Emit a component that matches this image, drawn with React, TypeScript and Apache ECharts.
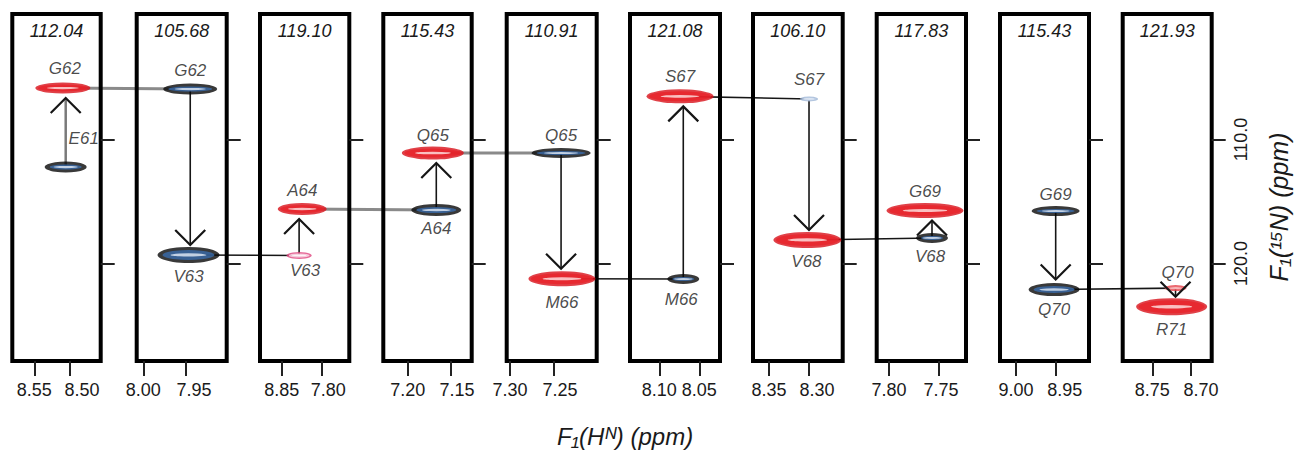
import React, { useEffect, useRef } from 'react';
import * as echarts from 'echarts';

// ---------------- data ----------------
const stripLabels = ['112.04', '105.68', '119.10', '115.43', '110.91', '121.08', '106.10', '117.83', '115.43', '121.93'];
const xMin = [8.457, 7.9023, 7.7646, 7.1261, 7.2015, 8.0241, 8.2579, 7.723, 8.908, 8.6733];
const xMax = [8.5808, 8.0077, 7.8774, 7.2282, 7.3038, 8.1366, 8.37, 7.8123, 9.0202, 8.7882];
const xTickValues = [[8.55, 8.5], [8.0, 7.95], [7.85, 7.8], [7.2, 7.15], [7.3, 7.25], [8.1, 8.05], [8.35, 8.3], [7.8, 7.75], [9.0, 8.95], [8.75, 8.7]];
const xTickLabels = [['8.55', '8.50'], ['8.00', '7.95'], ['8.85', '7.80'], ['7.20', '7.15'], ['7.30', '7.25'], ['8.10', '8.05'], ['8.35', '8.30'], ['7.80', '7.75'], ['9.00', '8.95'], ['8.75', '8.70']];
const yMin = 99.88;
const yMax = 127.86;
const yTickValues = [110, 120];

const peakPanel = [0, 0, 1, 1, 2, 2, 3, 3, 4, 4, 5, 5, 6, 6, 7, 7, 8, 8, 9, 9];
const peakLabel = ['G62', 'E61', 'G62', 'V63', 'V63', 'A64', 'Q65', 'A64', 'Q65', 'M66', 'S67', 'M66', 'S67', 'V68', 'G69', 'V68', 'G69', 'Q70', 'Q70', 'R71'];
const peakH = [8.51, 8.506, 7.945, 7.947, 7.828, 7.824, 7.171, 7.167, 7.242, 7.241, 8.074, 8.07, 8.3, 8.302, 7.764, 7.757, 8.95, 8.952, 8.72, 8.725];
const peakN = [105.85, 112.22, 105.93, 119.31, 119.35, 115.6, 111.09, 115.69, 111.09, 121.23, 106.52, 121.25, 106.73, 118.1, 115.73, 117.94, 115.77, 122.1, 121.98, 123.48];
const peakKind = ['red', 'black', 'black', 'black', 'pink', 'red', 'red', 'black', 'black', 'red', 'red', 'black', 'pale', 'red', 'red', 'black', 'black', 'black', 'redSmall', 'red'];

// sequential connections (peak indices)
const walkFrom = [0, 3, 5, 6, 9, 10, 13, 17];
const walkTo = [2, 4, 7, 8, 11, 12, 15, 18];
const walkGray = [true, false, true, true, false, false, false, false];
const arrowFrom = [1, 2, 4, 7, 8, 11, 12, 15, 16, 18];
const arrowTo = [0, 3, 5, 6, 9, 10, 13, 14, 17, 19];
const arrowGray = [true, false, false, false, false, false, false, false, false, false];

// ---------------- styles / layout ----------------
const panelLeft = [12.3, 136.7, 260, 383.3, 506.7, 630, 753, 876.7, 1000, 1122.7];
const panelRight = [100.7, 226.7, 349.3, 471.7, 596.7, 720, 842.7, 966, 1089, 1211.7];
const secondLabelShift = [12, 8, 7, 6, 6, 0, 8, 2, 9, 10];
const gridTop = 14;
const gridHeight = 347;
const peakW = [55, 42, 54, 62, 25, 49, 62, 50, 59, 67, 67, 32, 18, 68, 77, 32, 48, 51, 22, 71];
const peakHt = [11, 11, 11, 16, 7, 12, 13, 12, 10, 15, 14, 10, 5, 16, 15, 10, 10, 13, 6, 17];
const labelDx = [2, 18, 0, 0, 6, 0, 0, 0, 0, 0, 0, -2, 0, -1, 0, -2, 0, 0, 2, 0];
const labelDy = [-20, -29, -19, 22, 15, -18, -18, 18, -18, 24, -20, 20, -19, 22, -19, 19, -17, 20, -16, 23];
const kindColors: Record<string, string[]> = {
  red: ['#d8121a', '#e8232b', '#ffe6e6'],
  black: ['#080808', '#3a6cab', '#e6eef8'],
  pink: ['#e0457e', '#fbe4ed', '#ffffff'],
  pale: ['#9db5d6', '#c6d5ea', '#eef3fa'],
  redSmall: ['#e3404a', '#f27a80', '#fde5e6'],
};
const kindInset: Record<string, number[]> = {
  red: [5, 4],
  black: [10, 6],
  pink: [4, 3],
  pale: [4, 2],
  redSmall: [4, 3],
};
const FONT = '"Liberation Sans", Arial, sans-serif';

export default function App() {
  const ref = useRef<HTMLDivElement>(null);

  useEffect(() => {
    document.body.style.margin = '0';
    const chart = echarts.init(ref.current as HTMLDivElement, null, { renderer: 'svg' });

    const grid = panelLeft.map((l, i) => ({
      left: l,
      top: gridTop,
      width: panelRight[i] - l,
      height: gridHeight,
      show: true,
      borderColor: '#000',
      borderWidth: 4,
      backgroundColor: 'transparent',
      outerBoundsMode: 'none',
    }));

    const xAxis = panelLeft.map((_, i) => ({
      gridIndex: i,
      type: 'value',
      min: xMin[i],
      max: xMax[i],
      inverse: true,
      position: 'bottom',
      axisLine: { show: false },
      splitLine: { show: false },
      axisTick: { show: true, customValues: xTickValues[i], length: 15, lineStyle: { color: '#222', width: 2 } },
      axisLabel: {
        show: true,
        customValues: xTickValues[i],
        margin: 20,
        fontSize: 18,
        color: '#1a1a1a',
        fontFamily: FONT,
        formatter: (v: number) => {
          const k = xTickValues[i].findIndex((t) => Math.abs(t - v) < 1e-6);
          if (k < 0) return '';
          return k === 0 ? '{a|' + xTickLabels[i][k] + '}' : '{b|' + xTickLabels[i][k] + '}';
        },
        rich: {
          a: { fontSize: 18, fontFamily: FONT, color: '#1a1a1a' },
          b: { fontSize: 18, fontFamily: FONT, color: '#1a1a1a', padding: [0, 0, 0, 2 * secondLabelShift[i]] },
        },
      },
    }));

    const yAxis = panelLeft.map((_, i) => ({
      gridIndex: i,
      type: 'value',
      min: yMin,
      max: yMax,
      inverse: true,
      position: 'right',
      axisLine: { show: false },
      splitLine: { show: false },
      axisTick: { show: true, customValues: yTickValues, length: 14, lineStyle: { color: '#222', width: 2 } },
      axisLabel:
        i === panelLeft.length - 1
          ? {
              show: true,
              customValues: yTickValues,
              rotate: 90,
              margin: 20,
              fontSize: 18,
              color: '#1a1a1a',
              fontFamily: FONT,
              formatter: (v: number) => v.toFixed(1),
            }
          : { show: false },
    }));

    const series: any[] = [];
    panelLeft.forEach((_, p) => {
      const idx = peakPanel.map((pp, k) => (pp === p ? k : -1)).filter((k) => k >= 0);
      const layer = (layerNo: number) => ({
        type: 'scatter',
        xAxisIndex: p,
        yAxisIndex: p,
        z: 3 + layerNo,
        silent: layerNo > 0,
        symbol: 'circle',
        data: idx.map((k) => {
          const w = peakW[k];
          const h = peakHt[k];
          const ins = kindInset[peakKind[k]];
          const size =
            layerNo === 0
              ? [w, h]
              : layerNo === 1
              ? [Math.max(2, w - ins[0]), Math.max(2, h - ins[1])]
              : [w * 0.58, Math.max(1.5, h * 0.2)];
          return {
            name: peakLabel[k],
            value: [peakH[k], peakN[k]],
            symbolSize: size,
            itemStyle: { color: kindColors[peakKind[k]][layerNo] },
            label:
              layerNo === 0
                ? {
                    show: true,
                    position: 'inside',
                    offset: [labelDx[k], labelDy[k]],
                    formatter: '{b}',
                    fontSize: 17,
                    fontStyle: 'italic',
                    color: '#1a1a1a',
                    fontFamily: FONT,
                  }
                : { show: false },
          };
        }),
      });
      series.push(layer(0), layer(1), layer(2));
    });

    chart.setOption({
      animation: false,
      textStyle: { fontFamily: FONT },
      grid,
      xAxis,
      yAxis,
      series,
    });

    const px = (k: number) => chart.convertToPixel({ gridIndex: peakPanel[k] } as any, [peakH[k], peakN[k]]) as number[];
    const elements: any[] = [];

    walkFrom.forEach((f, i) => {
      const a = px(f);
      const b = px(walkTo[i]);
      elements.push({
        type: 'line',
        z: -1,
        silent: true,
        shape: { x1: a[0], y1: a[1], x2: b[0], y2: b[1] },
        style: { stroke: walkGray[i] ? '#8a8a8a' : '#161616', lineWidth: walkGray[i] ? 3 : 1.6 },
      });
    });

    arrowFrom.forEach((f, i) => {
      const a = px(f);
      const b = px(arrowTo[i]);
      const dir = b[1] > a[1] ? 1 : -1;
      const apexY = b[1] - dir * 10;
      const color = arrowGray[i] ? '#7a7a7a' : '#161616';
      elements.push({
        type: 'line',
        z: 2,
        silent: true,
        shape: { x1: a[0], y1: a[1], x2: a[0], y2: apexY },
        style: { stroke: color, lineWidth: arrowGray[i] ? 2.5 : 1.6 },
      });
      elements.push({
        type: 'polyline',
        z: 10,
        silent: true,
        shape: {
          points: [
            [a[0] - 15, apexY - dir * 15],
            [a[0], apexY],
            [a[0] + 15, apexY - dir * 15],
          ],
        },
        style: { stroke: '#161616', lineWidth: 2.2, fill: null },
      });
    });

    stripLabels.forEach((t, i) => {
      elements.push({
        type: 'text',
        z: 10,
        silent: true,
        x: (panelLeft[i] + panelRight[i]) / 2,
        y: 31,
        style: {
          text: t,
          fontSize: 18,
          fontStyle: 'italic',
          fontFamily: FONT,
          fill: '#1a1a1a',
          textAlign: 'center',
          textVerticalAlign: 'middle',
          align: 'center',
          verticalAlign: 'middle',
        },
      });
    });

    elements.push({
      type: 'text',
      z: 10,
      silent: true,
      x: 625,
      y: 436,
      style: {
        text: 'F₁(Hᴺ) (ppm)',
        fontSize: 24,
        fontStyle: 'italic',
        fontFamily: FONT,
        fill: '#1a1a1a',
        textAlign: 'center',
        textVerticalAlign: 'middle',
        align: 'center',
        verticalAlign: 'middle',
      },
    });
    elements.push({
      type: 'text',
      z: 10,
      silent: true,
      x: 1279,
      y: 207,
      rotation: Math.PI / 2,
      style: {
        text: 'F₁(¹⁵N) (ppm)',
        fontSize: 25,
        fontStyle: 'italic',
        fontFamily: FONT,
        fill: '#1a1a1a',
        textAlign: 'center',
        textVerticalAlign: 'middle',
        align: 'center',
        verticalAlign: 'middle',
      },
    });

    chart.setOption({ graphic: elements });

    return () => chart.dispose();
  }, []);

  return <div ref={ref} style={{ width: 1295, height: 451 }} />;
}
